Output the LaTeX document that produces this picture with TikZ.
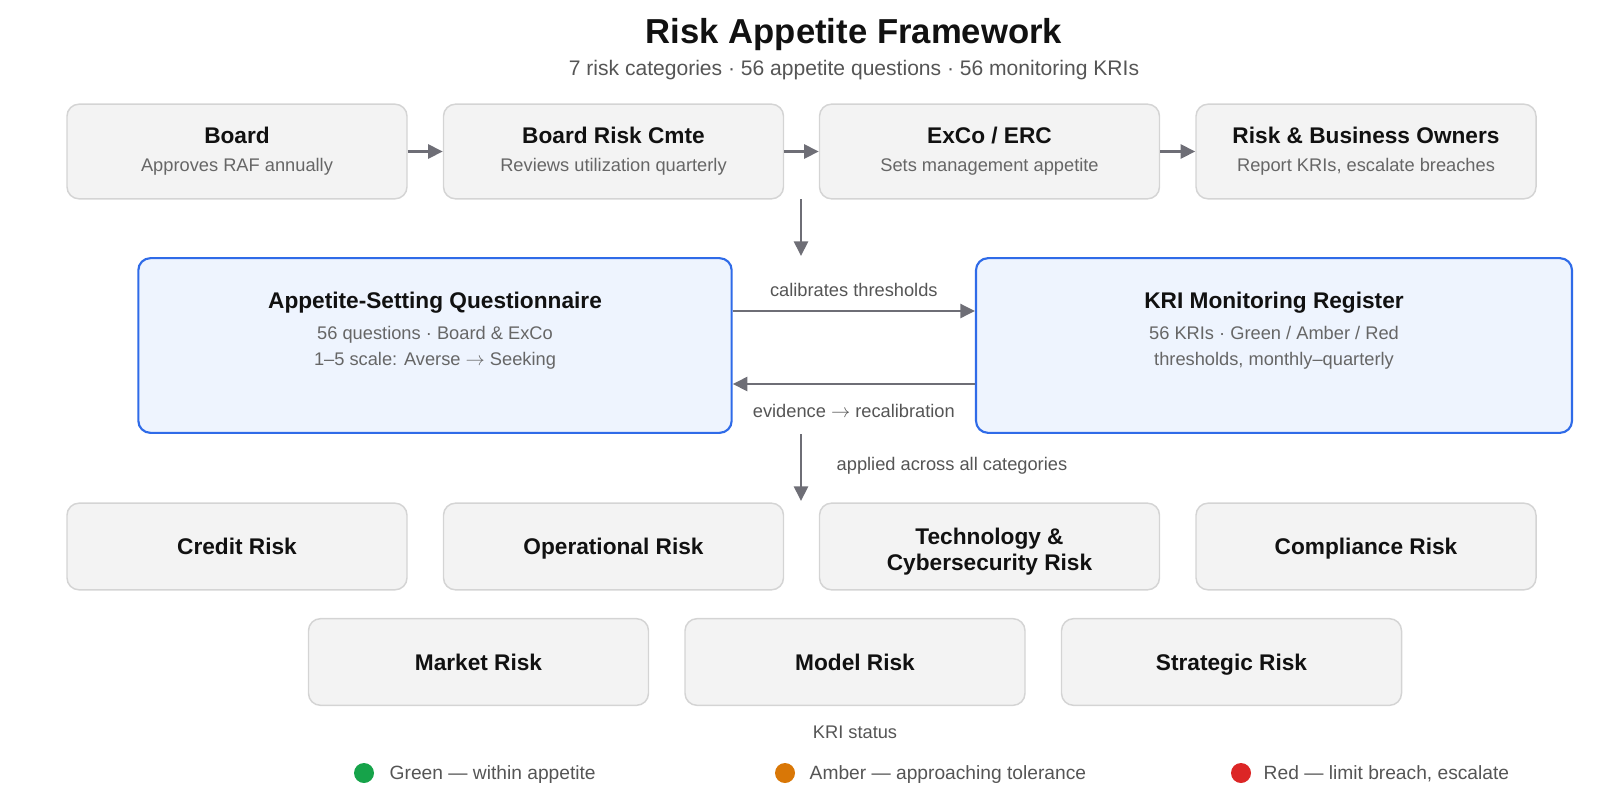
\documentclass[tikz,border=0pt]{standalone}
\usepackage{fontspec}
\setmainfont{Liberation Sans}
\usetikzlibrary{arrows.meta}

\definecolor{ink}{HTML}{111111}
\definecolor{subgray}{HTML}{555555}
\definecolor{notegray}{HTML}{666666}
\definecolor{boxfill}{HTML}{F3F3F3}
\definecolor{boxline}{HTML}{D4D4D4}
\definecolor{bluefill}{HTML}{EEF4FE}
\definecolor{blueline}{HTML}{2F6BE8}
\definecolor{arrowgray}{HTML}{6E6E76}
\definecolor{gok}{HTML}{16A34A}
\definecolor{gamber}{HTML}{D97706}
\definecolor{gred}{HTML}{DC2626}

\tikzset{
	graybox/.style={draw=boxline, line width=1.1pt, fill=boxfill, rounded corners=9pt, minimum width=255pt, inner sep=0pt},
	bluebox/.style={draw=blueline, line width=1.6pt, fill=bluefill, rounded corners=9pt, minimum height=131pt, inner sep=0pt},
	titletext/.style={text=ink, font=\fontsize{17}{20}\selectfont\bfseries, align=center, text height=15.8pt, text depth=3.6pt},
	subtext/.style={text=notegray, font=\fontsize{13.7}{16}\selectfont, text height=12.7pt, text depth=2.9pt},
	flow/.style={draw=arrowgray, line width=2pt, -{Triangle[length=11pt, width=10.5pt]}},
	flowlabel/.style={text=subgray, font=\fontsize{13.7}{16}\selectfont, text height=12.7pt, text depth=2.9pt}
}

\begin{document}
\begin{tikzpicture}[x=0.75pt, y=-0.75pt]

	\useasboundingbox (0,0) rectangle (1613,808);

	% heading
	\node[text=ink, font=\fontsize{26}{30}\selectfont\bfseries, text height=24pt, text depth=5.5pt] (title) at (854,31) {Risk Appetite Framework};
	\node[text=subgray, font=\fontsize{15.8}{18}\selectfont, text height=14.6pt, text depth=3.3pt] (subtitle) at (854,68) {7 risk categories · 56 appetite questions · 56 monitoring KRIs};

	% governance chain
	\node[graybox, minimum height=71pt] (board) at (237,151.5) {};
	\node[graybox, minimum height=71pt] (brc) at (613.5,151.5) {};
	\node[graybox, minimum height=71pt] (exco) at (989.5,151.5) {};
	\node[graybox, minimum height=71pt] (owners) at (1366,151.5) {};

	\node[titletext] (boardT) at (237,135) {Board};
	\node[subtext] (boardS) at (237,165) {Approves RAF annually};
	\node[titletext] (brcT) at (613.5,135) {Board Risk Cmte};
	\node[subtext] (brcS) at (613.5,165) {Reviews utilization quarterly};
	\node[titletext] (excoT) at (989.5,135) {ExCo / ERC};
	\node[subtext] (excoS) at (989.5,165) {Sets management appetite};
	\node[titletext] (ownersT) at (1366,135) {Risk \& Business Owners};
	\node[subtext] (ownersS) at (1366,165) {Report KRIs, escalate breaches};

	\draw[flow] (board) -- (brc);
	\draw[flow] (brc) -- (exco);
	\draw[flow] (exco) -- (owners);

	\coordinate (downA) at (801,199);
	\coordinate (downB) at (801,256);
	\draw[flow] (downA) -- (downB);

	% questionnaire and register
	\node[bluebox, minimum width=445pt] (quest) at (435,345.5) {};
	\node[bluebox, minimum width=447pt] (kri) at (1274,345.5) {};

	\node[titletext] (questT) at (435,300) {Appetite-Setting Questionnaire};
	\node[subtext] (questA) at (435,333) {56 questions · Board \& ExCo};
	\node[subtext] (questB) at (435,359) {1–5 scale: Averse $\rightarrow$ Seeking};
	\node[titletext] (kriT) at (1274,300) {KRI Monitoring Register};
	\node[subtext] (kriA) at (1274,333) {56 KRIs · Green / Amber / Red};
	\node[subtext] (kriB) at (1274,359) {thresholds, monthly–quarterly};

	\draw[flow] (quest.east |- 0,311) -- (kri.west |- 0,311)
		node[flowlabel, midway, above=3.5pt] (calib) {calibrates thresholds};
	\draw[flow] (kri.west |- 0,384) -- (quest.east |- 0,384)
		node[flowlabel, midway, below=8pt] (evid) {evidence $\rightarrow$ recalibration};

	\coordinate (downC) at (801,434);
	\coordinate (downD) at (801,501);
	\draw[flow] (downC) -- (downD);
	\node[flowlabel, anchor=west] (applied) at (832,464) {applied across all categories};

	% risk categories
	\node[graybox, minimum height=65pt] (credit) at (237,546.5) {};
	\node[graybox, minimum height=65pt] (oper) at (613.5,546.5) {};
	\node[graybox, minimum height=65pt] (tech) at (989.5,546.5) {};
	\node[graybox, minimum height=65pt] (compl) at (1366,546.5) {};
	\node[graybox, minimum height=65pt] (market) at (478.5,662) {};
	\node[graybox, minimum height=65pt] (model) at (855,662) {};
	\node[graybox, minimum height=65pt] (strat) at (1231.5,662) {};

	\node[titletext] at (credit) {Credit Risk};
	\node[titletext] at (oper) {Operational Risk};
	\node[text=ink, font=\fontsize{17}{19.5}\selectfont\bfseries, align=center] at (989.5,552) {Technology \&\\Cybersecurity Risk};
	\node[titletext] at (compl) {Compliance Risk};
	\node[titletext] at (market) {Market Risk};
	\node[titletext] at (model) {Model Risk};
	\node[titletext] at (strat) {Strategic Risk};

	% legend
	\node[flowlabel] (status) at (855,732) {KRI status};

	\fill[gok] (364,773) circle [radius=10];
	\fill[gamber] (785,773) circle [radius=10];
	\fill[gred] (1241,773) circle [radius=10];

	\node[flowlabel, font=\fontsize{14.4}{17}\selectfont, text height=13.3pt, text depth=3pt, anchor=west] (lgreen) at (385,773) {Green — within appetite};
	\node[flowlabel, font=\fontsize{14.4}{17}\selectfont, text height=13.3pt, text depth=3pt, anchor=west] (lamber) at (805,773) {Amber — approaching tolerance};
	\node[flowlabel, font=\fontsize{14.4}{17}\selectfont, text height=13.3pt, text depth=3pt, anchor=west] (lred) at (1259,773) {Red — limit breach, escalate};

\end{tikzpicture}
\end{document}
